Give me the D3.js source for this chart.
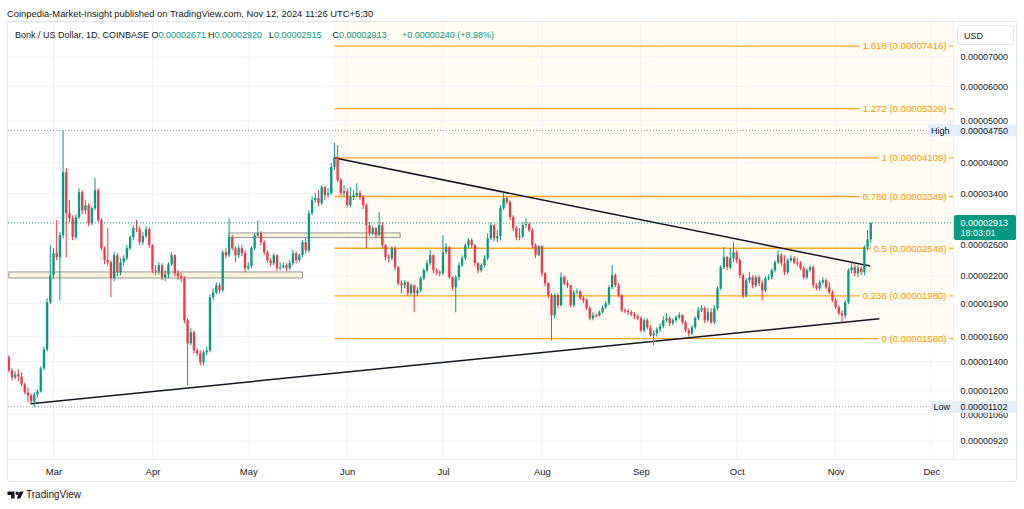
<!DOCTYPE html>
<html><head><meta charset="utf-8">
<script src="https://cdnjs.cloudflare.com/ajax/libs/d3/7.8.5/d3.min.js"></script>
<style>
body{margin:0;background:#fff}
svg{display:block}
text{font-family:"Liberation Sans",Arial,sans-serif}
</style>
</head><body>
<svg id="c" width="1024" height="509"></svg>
<script>
// Values are in millionths (x 1e-6)
const UNIT = 1e-6;
const startDate = "2024-02-16";

const opens = [
14.32,13.36,12.87,13.08,12.94,12.41,11.89,11.71,11.34,11.77,
11.96,13.50,14.93,19.16,22.09,24.82,24.30,27.30,38.09,30.66,
29.86,27.02,30.02,34.27,31.16,31.99,29.08,31.49,34.63,29.55,
25.48,23.91,23.66,21.74,24.56,22.44,23.66,24.17,25.48,27.02,
28.33,28.20,26.30,27.16,28.18,25.89,22.68,22.56,23.29,21.86,
22.20,23.41,24.56,22.32,21.97,21.74,17.41,15.41,16.34,14.85,
14.62,13.94,14.70,14.85,19.66,20.18,20.95,20.40,24.95,24.56,
27.02,25.48,24.56,25.48,24.82,22.92,23.17,25.48,27.30,27.59,
26.30,24.95,23.91,23.54,24.56,22.92,23.05,23.29,22.92,23.54,
24.82,23.91,24.56,26.30,25.21,30.66,32.85,33.20,32.33,35.18,
33.73,34.09,39.12,41.09,36.51,34.09,34.45,31.99,33.38,33.73,
34.09,33.38,31.99,28.78,27.59,28.33,27.30,28.78,25.89,24.30,
24.17,25.48,23.05,21.17,20.95,21.28,20.08,20.95,20.08,20.40,
21.74,22.68,23.54,24.56,22.68,22.44,22.32,24.95,25.62,21.86,
20.73,21.86,23.29,24.17,25.89,26.58,25.89,23.54,22.68,23.29,
24.17,26.86,28.78,26.86,27.16,31.49,33.20,32.51,30.02,28.33,
27.02,27.16,28.78,28.93,28.03,25.89,24.56,25.75,22.32,21.17,
19.87,17.88,19.87,18.85,21.86,21.17,20.95,18.85,20.18,20.29,
19.56,19.36,18.56,17.59,17.88,17.85,18.17,18.66,19.05,20.73,
22.09,20.95,19.87,18.36,18.27,18.17,17.97,17.78,17.59,16.51,
17.41,16.78,16.08,16.25,16.60,16.87,17.41,17.59,17.14,17.41,
17.69,17.88,17.23,16.51,16.25,16.78,17.59,18.36,18.56,17.41,
18.17,17.23,18.56,20.62,23.05,24.30,23.05,24.17,24.95,23.91,
22.09,19.87,21.51,21.86,20.95,21.86,21.17,20.40,21.74,21.86,
22.68,23.66,24.56,23.54,22.44,23.91,24.17,23.66,23.54,22.92,
21.86,22.68,23.05,20.95,20.62,21.28,21.51,20.73,20.18,19.36,
18.66,18.07,17.88,19.16,22.68,23.05,22.32,22.92,22.44,25.62,
26.71];

const highs = [
14.47,13.50,13.29,13.43,13.22,12.54,12.21,11.83,11.89,12.08,
13.65,15.17,19.56,25.89,25.48,29.55,27.74,47.50,38.91,32.85,
30.34,30.50,35.00,34.63,32.85,32.33,31.82,36.90,35.00,29.86,
25.75,28.33,23.91,24.95,24.82,24.17,24.56,25.89,27.30,28.78,
29.55,28.63,27.74,28.63,28.48,26.03,23.29,23.66,23.54,22.68,
23.66,24.95,24.69,22.68,22.44,21.97,17.59,16.69,16.51,15.01,
14.85,14.85,15.17,19.98,20.62,21.28,21.17,25.21,25.48,29.86,
27.30,25.75,25.89,25.89,25.21,23.66,25.75,27.59,29.55,27.88,
26.58,25.21,24.17,24.82,24.69,23.66,23.66,23.54,23.91,25.21,
25.08,24.82,26.58,26.86,31.16,33.55,34.09,34.63,35.56,35.37,
35.00,39.95,44.41,43.95,36.90,35.56,35.00,35.18,34.63,35.93,
34.63,33.73,32.33,29.24,28.63,28.48,30.82,29.24,26.03,24.69,
25.75,25.75,23.17,21.51,21.51,21.40,21.17,21.06,20.73,21.97,
22.92,23.91,25.21,24.69,22.92,22.68,27.30,26.16,25.75,21.97,
22.09,23.66,24.56,26.16,26.86,26.86,26.03,23.66,23.54,24.56,
27.59,29.24,28.93,28.03,31.99,34.27,33.55,32.85,30.34,28.63,
28.33,29.24,29.86,29.24,28.33,26.16,25.89,25.89,22.44,21.28,
20.08,20.08,20.08,22.44,22.09,21.51,20.95,20.40,20.62,20.40,
19.77,19.56,18.75,18.17,18.07,18.36,18.85,19.26,20.95,23.29,
22.32,21.17,19.98,18.56,18.46,18.36,18.17,17.97,17.78,17.59,
17.59,16.96,16.51,16.78,17.14,17.78,18.07,17.78,17.59,17.88,
18.17,17.97,17.41,16.69,16.96,17.78,18.66,18.85,18.75,18.56,
18.56,18.85,20.84,23.29,25.62,24.43,25.48,26.30,25.21,24.17,
22.32,21.74,22.44,22.09,22.09,22.09,21.51,21.97,22.20,22.92,
23.91,25.21,24.82,24.56,24.17,24.56,24.43,24.17,23.79,23.17,
22.92,23.29,23.29,21.17,21.51,21.86,21.74,21.28,20.40,19.56,
18.85,18.36,19.36,22.92,23.66,23.41,23.29,23.17,25.89,28.03,
29.20];

const lows = [
13.22,12.67,12.74,12.60,12.27,11.77,11.28,11.16,11.02,11.59,
11.89,13.36,14.77,18.95,21.74,23.91,19.36,26.86,24.30,29.24,
26.58,26.72,29.71,30.50,30.50,28.63,28.78,31.16,29.24,25.21,
23.41,23.17,19.66,21.40,21.97,22.09,23.17,23.91,25.21,26.58,
27.74,25.89,25.89,26.86,25.48,22.32,22.09,22.20,21.51,21.40,
21.74,23.17,21.97,21.51,21.28,17.14,12.34,15.25,14.62,14.39,
13.72,13.72,14.47,14.70,19.36,19.98,20.08,20.18,24.17,24.30,
25.21,23.66,24.17,24.43,22.44,22.68,22.92,25.21,27.02,25.89,
24.56,23.54,23.17,23.29,22.56,22.68,22.92,22.56,22.68,23.29,
23.54,23.66,24.30,24.82,24.95,30.34,32.33,31.82,31.99,32.85,
33.20,33.73,38.50,36.13,33.73,33.55,31.65,31.65,32.85,33.38,
32.85,31.32,25.48,27.16,27.30,26.86,27.16,25.48,23.91,23.66,
23.91,22.68,20.95,20.08,20.62,19.77,19.87,18.17,19.77,20.18,
21.51,22.44,23.29,22.32,22.09,21.97,22.09,24.69,21.63,20.40,
18.17,21.51,23.05,23.91,25.48,25.48,23.17,22.32,22.44,23.05,
23.91,26.58,26.44,26.30,26.58,31.16,32.16,29.55,27.88,26.58,
26.58,26.86,28.33,27.74,25.48,24.17,24.43,21.97,20.84,19.56,
15.66,17.59,18.56,18.75,20.95,20.62,18.66,18.66,19.98,19.36,
19.05,18.36,17.41,17.41,17.69,17.78,18.07,18.46,18.85,20.51,
20.73,19.66,18.17,18.07,17.88,17.78,17.50,17.41,16.34,16.34,
16.60,15.99,15.25,15.99,16.34,16.69,17.23,16.87,16.96,17.23,
17.50,17.05,16.34,15.99,16.08,16.60,17.41,18.17,17.14,17.23,
17.05,17.05,18.36,20.40,22.80,22.68,22.80,23.66,23.54,21.74,
19.56,19.66,21.17,20.62,20.73,20.84,19.36,20.18,21.51,21.63,
22.44,23.41,23.17,22.09,22.20,23.66,23.41,23.17,22.68,21.63,
21.63,22.44,20.62,20.40,20.40,21.06,20.51,19.98,19.16,18.46,
17.88,17.23,17.59,18.95,22.32,21.97,21.86,22.09,22.09,25.21,
25.15];

const closes = [
13.36,12.87,13.08,12.94,12.41,11.89,11.71,11.34,11.77,11.96,
13.50,14.93,19.16,22.09,24.82,24.30,27.30,38.09,30.66,29.86,
27.02,30.02,34.27,31.16,31.99,29.08,31.49,34.63,29.55,25.48,
23.91,23.66,21.74,24.56,22.44,23.66,24.17,25.48,27.02,28.33,
28.20,26.30,27.16,28.18,25.89,22.68,22.56,23.29,21.86,22.20,
23.41,24.56,22.32,21.97,21.74,17.41,15.41,16.34,14.85,14.62,
13.94,14.70,14.85,19.66,20.18,20.95,20.40,24.95,24.56,27.02,
25.48,24.56,25.48,24.82,22.92,23.17,25.48,27.30,27.59,26.30,
24.95,23.91,23.54,24.56,22.92,23.05,23.29,22.92,23.54,24.82,
23.91,24.56,26.30,25.21,30.66,32.85,33.20,32.33,35.18,33.73,
34.09,39.12,41.09,36.51,34.09,34.45,31.99,33.38,33.73,34.09,
33.38,31.99,28.78,27.59,28.33,27.30,28.78,25.89,24.30,24.17,
25.48,23.05,21.17,20.95,21.28,20.08,20.95,20.08,20.40,21.74,
22.68,23.54,24.56,22.68,22.44,22.32,24.95,25.62,21.86,20.73,
21.86,23.29,24.17,25.89,26.58,25.89,23.54,22.68,23.29,24.17,
26.86,28.78,26.86,27.16,31.49,33.20,32.51,30.02,28.33,27.02,
27.16,28.78,28.93,28.03,25.89,24.56,25.75,22.32,21.17,19.87,
17.88,19.87,18.85,21.86,21.17,20.95,18.85,20.18,20.29,19.56,
19.36,18.56,17.59,17.88,17.85,18.17,18.66,19.05,20.73,22.09,
20.95,19.87,18.36,18.27,18.17,17.97,17.78,17.59,16.51,17.41,
16.78,16.08,16.25,16.60,16.87,17.41,17.59,17.14,17.41,17.69,
17.88,17.23,16.51,16.25,16.78,17.59,18.36,18.56,17.41,18.17,
17.23,18.56,20.62,23.05,24.30,23.05,24.17,24.95,23.91,22.09,
19.87,21.51,21.86,20.95,21.86,21.17,20.40,21.74,21.86,22.68,
23.66,24.56,23.54,22.44,23.91,24.17,23.66,23.54,22.92,21.86,
22.68,23.05,20.95,20.62,21.28,21.51,20.73,20.18,19.36,18.66,
18.07,17.88,19.16,22.68,23.05,22.32,22.92,22.44,25.62,26.71,
29.13];

const priceTicks = [70, 60, 50, 40, 34, 30, 26, 22, 19, 16, 14, 12, 10.6, 9.2];
const monthTicks = ["2024-03-01","2024-04-01","2024-05-01","2024-06-01","2024-07-01","2024-08-01","2024-09-01","2024-10-01","2024-11-01","2024-12-01"];
const monthLabels = ["Mar","Apr","May","Jun","Jul","Aug","Sep","Oct","Nov","Dec"];

const fibRatios = [0, 0.236, 0.5, 0.786, 1, 1.272, 1.618];
const fibValues = [15.80, 19.80, 25.48, 33.49, 41.09, 53.29, 74.16];
const fibStart = "2024-05-28";

const lowerTrend = [["2024-02-22T19:00:00Z", 11.20], ["2024-11-14T17:00:00Z", 17.56]];
const upperTrend = [["2024-05-27T18:00:00Z", 41.09], ["2024-11-11T19:00:00Z", 23.20]];

const zoneFrom = ["2024-02-16T00:00:00Z", "2024-04-25T00:00:00Z"];
const zoneTo   = ["2024-05-18T00:00:00Z", "2024-06-17T14:00:00Z"];
const zoneLow  = [21.77, 26.96];
const zoneHigh = [22.48, 27.63];

const highValue = 47.50, lowValue = 11.02, lastValue = 29.13;

// ---------------------------------------------------------------
const svg = d3.select("#c");
const P = {l: 8, r: 953, t: 22, b: 459};
const parse = d3.utcParse("%Y-%m-%d");
const t0 = parse(startDate);
const dates = closes.map((_, i) => d3.utcDay.offset(t0, i));
const x = d3.scaleUtc().domain([parse("2024-03-01"), parse("2024-12-01")]).range([53.5, 931.4]);
const y = d3.scaleLog().domain([9.2, 70]).range([441, 57]);
const fmt = v => (v * UNIT).toFixed(8);

const GREEN = "#089981", RED = "#f23645", ORANGE = "#ff9800", DARK = "#131722";

svg.append("rect").attr("width", 1024).attr("height", 509).attr("fill", "#fff");

svg.append("defs").append("clipPath").attr("id", "plot")
  .append("rect").attr("x", P.l).attr("y", P.t).attr("width", P.r - P.l).attr("height", P.b - P.t);
const g = svg.append("g").attr("clip-path", "url(#plot)");

// fib background
const fx = x(parse(fibStart));
g.append("rect").attr("x", fx).attr("y", P.t).attr("width", P.r - fx)
  .attr("height", y(fibValues[0]) - P.t).attr("fill", "#fffaf2");

// grid
g.selectAll(".hg").data(priceTicks).join("line")
  .attr("x1", P.l).attr("x2", P.r).attr("y1", d => y(d)).attr("y2", d => y(d))
  .attr("stroke", "#f0f3fa").attr("stroke-width", 1);
g.selectAll(".vg").data(monthTicks).join("line")
  .attr("x1", d => x(parse(d))).attr("x2", d => x(parse(d))).attr("y1", P.t).attr("y2", P.b)
  .attr("stroke", "#f0f3fa").attr("stroke-width", 1);

// zones
zoneFrom.forEach((f, i) => {
  const x1 = x(new Date(f)), x2 = x(new Date(zoneTo[i]));
  g.append("rect").attr("x", x1).attr("y", y(zoneHigh[i])).attr("width", x2 - x1)
    .attr("height", y(zoneLow[i]) - y(zoneHigh[i]))
    .attr("fill", "#f7f2da").attr("stroke", "#9a9a9a").attr("stroke-width", 1);
});

// fib lines
fibValues.forEach((v, i) => {
  g.append("line").attr("x1", fx).attr("x2", P.r).attr("y1", y(v)).attr("y2", y(v))
    .attr("stroke", ORANGE).attr("stroke-width", 1.3).attr("opacity", 0.85);
});
const fibLab = svg.append("g");
fibValues.forEach((v, i) => {
  const gg = fibLab.append("g");
  const bg = gg.append("rect").attr("fill", "#fffaf2");
  const t = gg.append("text").attr("x", 946.5).attr("y", y(v)).attr("dy", "0.35em")
    .attr("text-anchor", "end").attr("font-size", 9.6).attr("fill", ORANGE)
    .text(`${fibRatios[i]} (${fmt(v)})`);
  const bb = t.node().getBBox();
  bg.attr("x", bb.x - 3).attr("y", bb.y).attr("width", bb.width + 6).attr("height", bb.height);
});

// trend lines
[lowerTrend, upperTrend].forEach(tl => {
  g.append("line")
    .attr("x1", x(new Date(tl[0][0]))).attr("y1", y(tl[0][1]))
    .attr("x2", x(new Date(tl[1][0]))).attr("y2", y(tl[1][1]))
    .attr("stroke", DARK).attr("stroke-width", 1.5);
});

// high / low / last dotted lines
g.append("line").attr("x1", P.l).attr("x2", 928).attr("y1", y(highValue)).attr("y2", y(highValue))
  .attr("stroke", "#9598a1").attr("stroke-dasharray", "1,2");
g.append("line").attr("x1", P.l).attr("x2", 930).attr("y1", y(lowValue)).attr("y2", y(lowValue))
  .attr("stroke", "#9598a1").attr("stroke-dasharray", "1,2");
g.append("line").attr("x1", P.l).attr("x2", P.r).attr("y1", y(lastValue)).attr("y2", y(lastValue))
  .attr("stroke", GREEN).attr("stroke-dasharray", "1,2");

// candles
const candles = g.append("g");
dates.forEach((d, i) => {
  const o = opens[i], h = highs[i], l = lows[i], c = closes[i];
  const col = c >= o ? GREEN : RED;
  const cx = x(d);
  candles.append("line").attr("x1", cx).attr("x2", cx).attr("y1", y(h)).attr("y2", y(l))
    .attr("stroke", col).attr("stroke-width", 1);
  const top = y(Math.max(o, c)), bot = y(Math.min(o, c));
  candles.append("rect").attr("x", cx - 1.15).attr("width", 2.3)
    .attr("y", top).attr("height", Math.max(1, bot - top)).attr("fill", col);
});

// frame
svg.append("rect").attr("x", 7.5).attr("y", 21.5).attr("width", 1009).attr("height", 460)
  .attr("fill", "none").attr("stroke", "#e0e3eb").attr("rx", 2);
svg.append("line").attr("x1", 7.5).attr("x2", 1016.5).attr("y1", P.b + 0.5).attr("y2", P.b + 0.5).attr("stroke", "#eef0f4");
svg.append("line").attr("x1", P.r + 0.5).attr("x2", P.r + 0.5).attr("y1", P.t).attr("y2", P.b).attr("stroke", "#eef0f4");

// price axis
const ya = svg.append("g").attr("transform", `translate(${P.r},0)`)
  .call(d3.axisRight(y).tickValues(priceTicks).tickFormat(fmt).tickSize(0).tickPadding(7.5));
ya.select(".domain").remove();
ya.selectAll("text").attr("font-size", 9).attr("fill", DARK).attr("font-family", '"Liberation Sans",Arial,sans-serif');

// time axis
const xa = svg.append("g").attr("transform", `translate(0,${P.b})`)
  .call(d3.axisBottom(x).tickValues(monthTicks.map(parse)).tickFormat((d, i) => monthLabels[i]).tickSize(0).tickPadding(9));
xa.select(".domain").remove();
xa.selectAll("text").attr("font-size", 9.5).attr("fill", DARK).attr("font-family", '"Liberation Sans",Arial,sans-serif');

// USD box
svg.append("rect").attr("x", 957.5).attr("y", 25.5).attr("width", 56).attr("height", 19).attr("rx", 3)
  .attr("fill", "#fff").attr("stroke", "#e0e3eb");
svg.append("text").attr("x", 964).attr("y", 38.5).attr("font-size", 9).attr("fill", DARK).text("USD");

// High / Low labels
function hlLabel(v, name, lx) {
  const yy = y(v);
  svg.append("rect").attr("x", lx).attr("y", yy - 6).attr("width", P.r - lx).attr("height", 12).attr("fill", "#e3effd");
  svg.append("text").attr("x", lx + 3).attr("y", yy).attr("dy", "0.35em").attr("font-size", 9).attr("fill", DARK).text(name);
  svg.append("rect").attr("x", P.r + 1).attr("y", yy - 6).attr("width", 62).attr("height", 12).attr("fill", "#e3effd");
  svg.append("text").attr("x", 960.5).attr("y", yy).attr("dy", "0.35em").attr("font-size", 9).attr("fill", DARK).text(fmt(v));
}
hlLabel(highValue, "High", 928);
hlLabel(lowValue, "Low", 930.5);

// last price label
const ly = y(lastValue);
svg.append("rect").attr("x", 954).attr("y", ly - 8).attr("width", 62).attr("height", 25).attr("rx", 2).attr("fill", GREEN);
svg.append("text").attr("x", 960.5).attr("y", ly).attr("dy", "0.35em").attr("font-size", 9).attr("fill", "#fff").text(fmt(lastValue));
svg.append("text").attr("x", 960.5).attr("y", ly + 9.5).attr("dy", "0.35em").attr("font-size", 9).attr("fill", "#e6f5f1").text("18:03:01");

// header
svg.append("text").attr("x", 7).attr("y", 16.5).attr("font-size", 9.4).attr("fill", DARK)
  .text("Coinpedia-Market-Insight published on TradingView.com, Nov 12, 2024 11:26 UTC+5:30");
svg.append("text").attr("x", 15).attr("y", 37.5).attr("font-size", 9).attr("fill", DARK)
  .text("Bonk / US Dollar, 1D, COINBASE");
const legendKeys = ["O", "H", "L", "C", ""];
const legendVals = ["0.00002671", "0.00002920", "0.00002515", "0.00002913", "+0.00000240 (+8.98%)"];
const legendX = [151.5, 208, 269, 332.5, 402];
legendKeys.forEach((k, i) => {
  const t = svg.append("text").attr("x", legendX[i]).attr("y", 37.5).attr("font-size", 9);
  if (k) t.append("tspan").attr("fill", DARK).text(k);
  t.append("tspan").attr("fill", GREEN).text(legendVals[i]);
});

// TradingView logo
const lg = svg.append("g").attr("fill", DARK);
lg.append("path").attr("d", "M7.5,491.5 h7 v7 h-3.4 v-3.6 h-3.6 z");
lg.append("circle").attr("cx", 17.3).attr("cy", 493.3).attr("r", 1.7);
lg.append("path").attr("d", "M20,491.5 h3.6 l-3.3,7 h-3.6 z");
svg.append("text").attr("x", 26).attr("y", 498.3).attr("font-size", 10).attr("fill", DARK).text("TradingView");
</script>
</body></html>
